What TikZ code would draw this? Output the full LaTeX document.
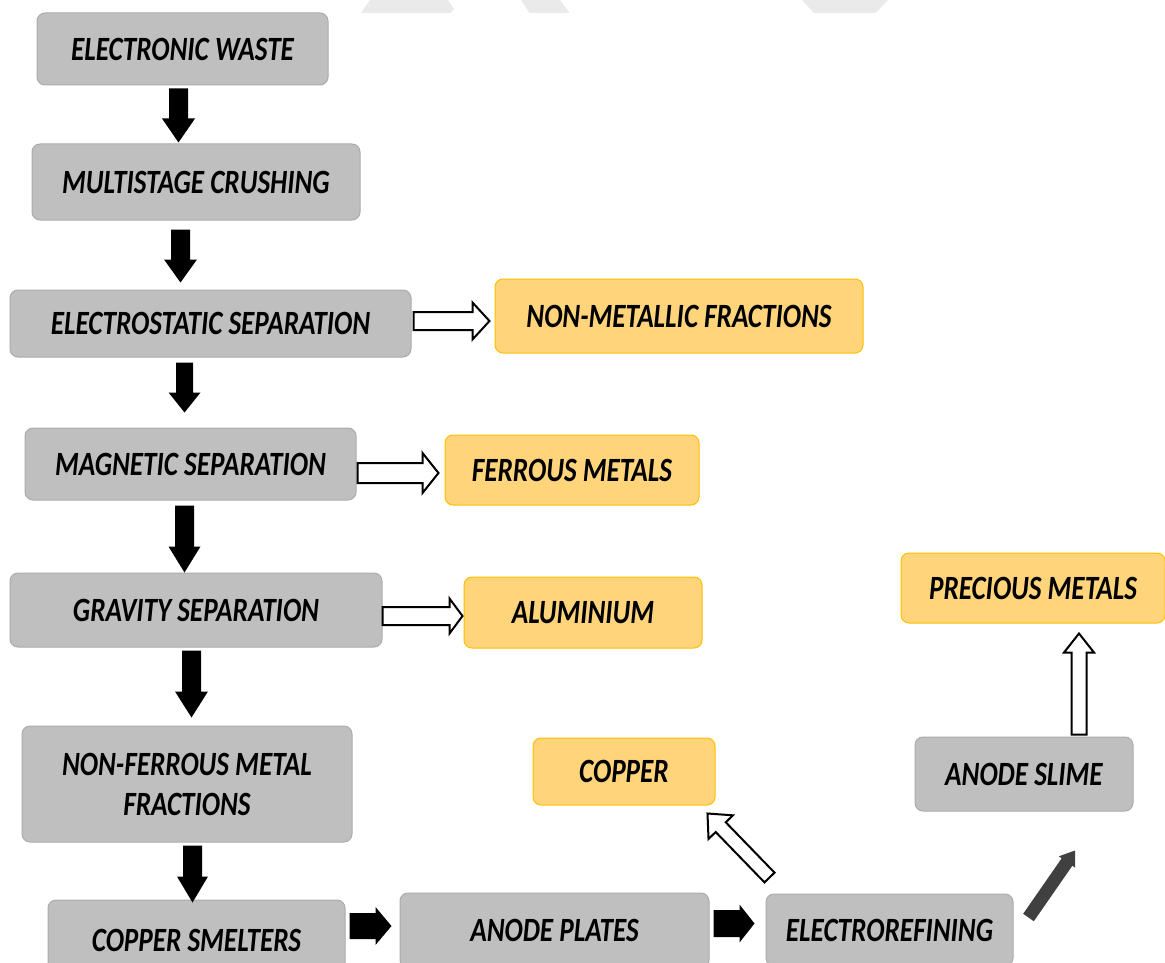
\documentclass[tikz,border=0pt]{standalone}
\usepackage{fontspec}
\newfontfamily\boxfont{Carlito}[FakeStretch=0.8]
\usetikzlibrary{calc}

\definecolor{boxgray}{RGB}{191,191,191}
\definecolor{boxgrayedge}{RGB}{172,172,172}
\definecolor{boxgold}{RGB}{255,212,122}
\definecolor{boxgoldedge}{RGB}{255,192,0}
\definecolor{markgray}{RGB}{234,234,234}
\definecolor{darkarrow}{RGB}{64,64,64}

% Block arrow from #2 to #3: #4 half shaft width, #5 half head width, #6 head length
\makeatletter
\newcommand\blockarrow[6]{%
  \pgfpointdiff{\pgfpointanchor{#2}{center}}{\pgfpointanchor{#3}{center}}%
  \pgfgetlastxy{\ba@dx}{\ba@dy}%
  \pgfmathsetmacro\ba@ang{atan2(\ba@dy,\ba@dx)}%
  \pgfmathsetmacro\ba@len{veclen(\ba@dx,\ba@dy)}%
  \pgfmathsetmacro\ba@neck{\ba@len-#6}%
  \begin{scope}[shift={(#2)},rotate=\ba@ang]
    \path[#1] (0pt,-#4pt) -- (\ba@neck pt,-#4pt) -- (\ba@neck pt,-#5pt)
      -- (\ba@len pt,0pt) -- (\ba@neck pt,#5pt) -- (\ba@neck pt,#4pt)
      -- (0pt,#4pt) -- cycle;
  \end{scope}}
\makeatother

\tikzset{
  lbl/.style={font=\boxfont\bfseries\itshape\fontsize{34}{40}\selectfont, text=black, align=center},
  gbox/.style={lbl, fill=boxgray, draw=boxgrayedge, line width=1pt, rounded corners=8pt, inner sep=0pt},
  obox/.style={lbl, fill=boxgold, draw=boxgoldedge, line width=1pt, rounded corners=8pt, inner sep=0pt},
  blk/.style={fill=black},
  wht/.style={draw=black, fill=white, line width=2pt, line join=miter},
  dkg/.style={fill=darkarrow},
}

\begin{document}
\begin{tikzpicture}[x=1pt,y=-1pt]
\useasboundingbox (0,0) rectangle (1165,963);
\clip (0,0) rectangle (1165,963);
\fill[white] (0,0) rectangle (1165,963);

% faint shapes along the top edge
\fill[markgray] (361,13) -- (370,0) -- (448,0) -- (454,9) -- (450,13) -- cycle;
\fill[markgray] (521,0) -- (560,0) -- (569.5,13) -- (529.5,13) -- cycle;
\fill[markgray] (802,0) -- (888,0) -- (875.5,13) -- (814,13) -- cycle;

% main process chain
\node[gbox, minimum width=291pt, minimum height=72pt] (ew) at (182.5,49) {ELECTRONIC WASTE};
\node[gbox, minimum width=328pt, minimum height=76pt] (mc) at (196,182) {MULTISTAGE CRUSHING};
\node[gbox, minimum width=401pt, minimum height=67pt] (es) at (210.5,323.5) {ELECTROSTATIC SEPARATION};
\node[gbox, minimum width=331pt, minimum height=72pt] (ms) at (190.5,464) {MAGNETIC SEPARATION};
\node[gbox, minimum width=372pt, minimum height=74pt] (gs) at (196,610) {GRAVITY SEPARATION};
\node[gbox, minimum width=330pt, minimum height=116pt] (nf) at (187,784) {NON-FERROUS METAL\\FRACTIONS};
\node[gbox, minimum width=297pt, minimum height=80pt] (cs) at (196.5,940) {COPPER SMELTERS};
\node[gbox, minimum width=309pt, minimum height=75pt] (ap) at (554.5,930.5) {ANODE PLATES};
\node[gbox, minimum width=247pt, minimum height=72pt] (er) at (889.5,930) {ELECTROREFINING};
\node[gbox, minimum width=218pt, minimum height=74pt] (as) at (1024,774) {ANODE SLIME};

% recovered fractions
\node[obox, minimum width=368pt, minimum height=74pt] (nmf) at (679,316) {NON-METALLIC FRACTIONS};
\node[obox, minimum width=254pt, minimum height=70pt] (fm) at (572,470) {FERROUS METALS};
\node[obox, minimum width=238pt, minimum height=71pt] (al) at (583,612.5) {ALUMINIUM};
\node[obox, minimum width=182pt, minimum height=67pt] (cu) at (624,771.5) {COPPER};
\node[obox, minimum width=264pt, minimum height=70pt] (pm) at (1033,588) {PRECIOUS METALS};

% arrow end points
\coordinate (a1s) at ($(ew.south)+(-4,3)$);
\coordinate (a1e) at ($(a1s |- mc.north)+(0,-1)$);
\coordinate (a2s) at ($(mc.south)+(-15.5,9)$);
\coordinate (a2e) at ($(a2s |- es.north)+(0,-7)$);
\coordinate (a3s) at ($(es.south)+(-26,5)$);
\coordinate (a3e) at ($(a3s |- ms.north)+(0,-15)$);
\coordinate (a4s) at ($(ms.south)+(-6,5)$);
\coordinate (a4e) at ($(a4s |- gs.north)+(0,0)$);
\coordinate (a5s) at ($(gs.south)+(-4.5,3)$);
\coordinate (a5e) at ($(a5s |- nf.north)+(0,-8)$);
\coordinate (a6s) at ($(nf.south)+(5.5,3)$);
\coordinate (a6e) at ($(a6s |- cs.north)+(0,3)$);
\coordinate (r1s) at ($(cs.east)+(4,-14)$);
\coordinate (r1e) at ($(r1s -| ap.west)+(-8,0)$);
\coordinate (r2s) at ($(ap.east)+(4,-7)$);
\coordinate (r2e) at ($(r2s -| er.west)+(-11,0)$);
\coordinate (w1s) at ($(es.east)+(2,-2.5)$);
\coordinate (w1e) at ($(w1s -| nmf.west)+(-5,0)$);
\coordinate (w2s) at ($(ms.east)+(1,9)$);
\coordinate (w2e) at ($(w2s -| fm.west)+(-6,0)$);
\coordinate (w3s) at ($(gs.east)+(0,6)$);
\coordinate (w3e) at ($(w3s -| al.west)+(-1,0)$);
\coordinate (w4s) at ($(as.north)+(55,-2)$);
\coordinate (w4e) at ($(w4s |- pm.south)+(0,10)$);
\coordinate (w5s) at ($(er.north west)+(4,-16)$);
\coordinate (w5e) at ($(cu.south east)+(-8,8)$);
\coordinate (d1s) at ($(er.north east)+(15,24)$);
\coordinate (d1e) at ($(as.south)+(51,39)$);

% black flow arrows
\blockarrow{blk}{a1s}{a1e}{9.5}{16.5}{24}
\blockarrow{blk}{a2s}{a2e}{9.5}{16.5}{23}
\blockarrow{blk}{a3s}{a3e}{8.5}{16}{20}
\blockarrow{blk}{a4s}{a4e}{9.5}{16}{26}
\blockarrow{blk}{a5s}{a5e}{9.5}{16.5}{26}
\blockarrow{blk}{a6s}{a6e}{9.5}{15.5}{26}
\blockarrow{blk}{r1s}{r1e}{13}{19}{16}
\blockarrow{blk}{r2s}{r2e}{13.5}{19}{15}

% outlined side arrows
\blockarrow{wht}{w1s}{w1e}{9}{18.5}{17}
\blockarrow{wht}{w2s}{w2e}{10}{20}{16}
\blockarrow{wht}{w3s}{w3e}{9}{17.5}{13}
\blockarrow{wht}{w4s}{w4e}{7.5}{15}{19}
\blockarrow{wht}{w5s}{w5e}{7}{17}{19}

% dark grey arrow to the anode slime
\blockarrow{dkg}{d1s}{d1e}{6.5}{10}{14}
\end{tikzpicture}
\end{document}
